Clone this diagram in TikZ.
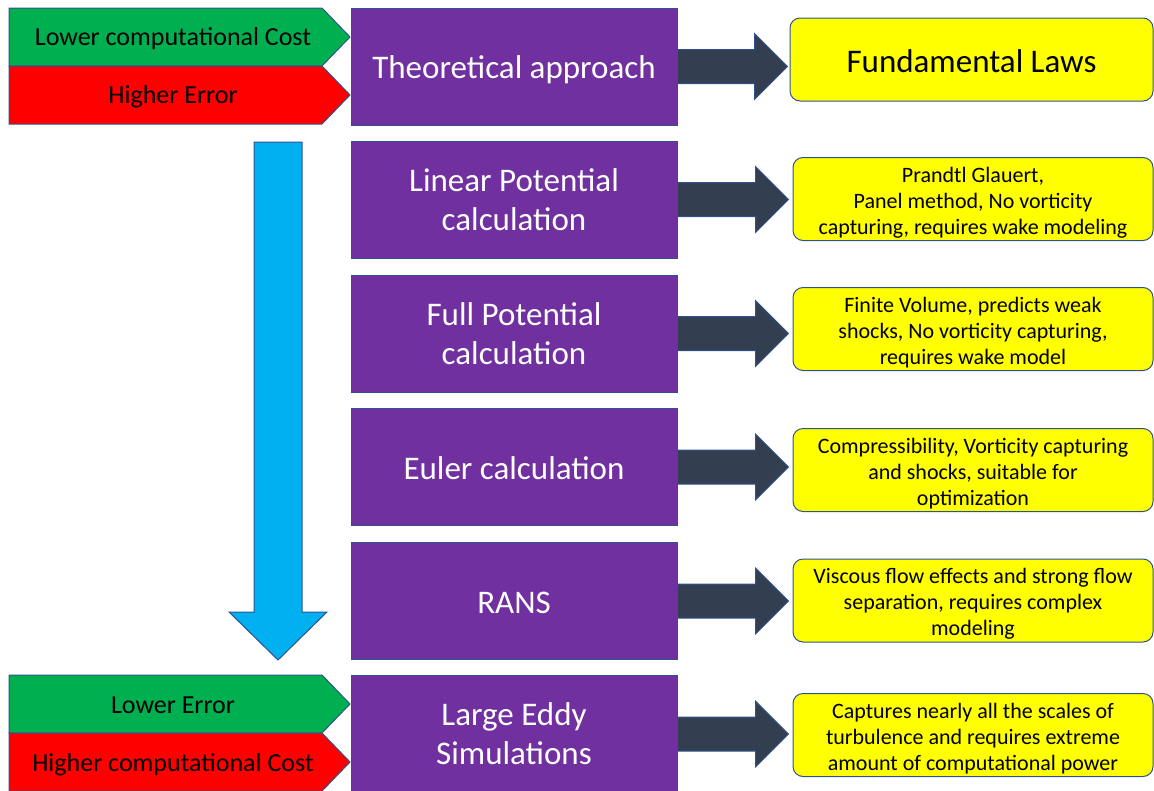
\documentclass[tikz,border=0pt]{standalone}
\usepackage{fontspec}
\setmainfont{Carlito}
\usetikzlibrary{calc}

\definecolor{methodpurple}{RGB}{112,48,160}
\definecolor{remarkyellow}{RGB}{255,255,0}
\definecolor{edgeblue}{RGB}{47,82,143}
\definecolor{arrowdark}{RGB}{51,63,80}
\definecolor{flowblue}{RGB}{0,176,240}
\definecolor{goodgreen}{RGB}{0,176,80}
\definecolor{badred}{RGB}{255,0,0}

% three centred lines, drawn a little lower than TikZ would centre them
\newcommand{\lowlines}[1]{\raisebox{-4pt}[\height][\depth]{\begin{tabular}{@{}c@{}}#1\end{tabular}}}

\tikzset{
  method/.style={draw=edgeblue, line width=1, fill=methodpurple, text=white, minimum width=326, minimum height=117, inner sep=0, align=center, font=\fontsize{33}{39}\selectfont},
  oneline/.style={execute at begin node={\rule{0pt}{30pt}}, execute at end node={\rule[-5pt]{0pt}{5pt}}},
  remark/.style={draw=edgeblue, line width=1, fill=remarkyellow, rounded corners=10, minimum width=360, minimum height=83, inner sep=0, align=center, font=\fontsize{22}{26}\selectfont},
  darkarrow/.style={draw=edgeblue, line width=1, fill=arrowdark},
  tag/.style={inner sep=0, font=\fontsize{26}{31}\selectfont},
}

\begin{document}
\begin{tikzpicture}[x=1pt,y=1pt,yscale=-1,xscale=1]
\useasboundingbox (0,0) rectangle (1154,790); %same size as the screenshot

%Shape: Pentagon (cost / error tags, top)
\draw [draw=edgeblue, line width=1, fill=goodgreen] (9,8) -- (322,8) -- (350,37) -- (322,66) -- (9,66) -- cycle ;
\draw [draw=edgeblue, line width=1, fill=badred] (9,66) -- (322,66) -- (350,95) -- (322,124) -- (9,124) -- cycle ;
%Shape: Pentagon (cost / error tags, bottom)
\draw [draw=edgeblue, line width=1, fill=goodgreen] (9,675) -- (322,675) -- (350,704) -- (322,733) -- (9,733) -- cycle ;
\draw [draw=edgeblue, line width=1, fill=badred] (9,733) -- (322,733) -- (350,762) -- (322,791) -- (9,791) -- cycle ;

% Text Node
\node [tag] (lowcost) at (173,39) {Lower computational Cost};
% Text Node
\node [tag] (higherr) at (173,96.5) {Higher Error};
% Text Node
\node [tag] (lowerr) at (173,705.5) {Lower Error};
% Text Node
\node [tag] (highcost) at (173,764.5) {Higher computational Cost};

%Shape: Down Arrow
\draw [draw=edgeblue, line width=1, fill=flowblue] (254,142) -- (302,142) -- (302,612) -- (327,612) -- (278,660) -- (229,612) -- (254,612) -- cycle ;

%Methods
\node [method, oneline] (theory) at (514,66.5) {Theoretical approach};
\node [method] (linear) at (514,199.5) {Linear Potential\\calculation};
\node [method] (fullpot) at (514,333.5) {Full Potential\\calculation};
\node [method, oneline] (euler) at (514,467) {Euler calculation};
\node [method, oneline] (rans) at (514,601) {RANS};
\node [method] (les) at (514,734) {Large Eddy\\Simulations};

%Remarks
\node [remark, font=\fontsize{33}{40}\selectfont, minimum width=363,
  execute at begin node={\rule{0pt}{31pt}}, execute at end node={\rule[-5pt]{0pt}{5pt}}] (laws) at (971.5,59.5) {Fundamental Laws};
\node [remark] (prandtl) at (973,199) {\lowlines{Prandtl Glauert,\\Panel method, No vorticity\\capturing, requires wake modeling}};
\node [remark] (finitevol) at (973,329) {\lowlines{Finite Volume, predicts weak\\shocks, No vorticity capturing,\\requires wake model}};
\node [remark] (compress) at (973,470) {\lowlines{Compressibility, Vorticity capturing\\and shocks, suitable for\\optimization}};
\node [remark] (viscous) at (973,600.5) {\lowlines{Viscous flow effects and strong flow\\separation, requires complex\\modeling}};
\node [remark] (scales) at (973,735) {\lowlines{Captures nearly all the scales of\\turbulence and requires extreme\\amount of computational power}};

%Shape: Right Arrow
\coordinate (t1) at ($(theory.east -| laws.west)+(-2,0)$);
\draw [darkarrow] ($(theory.east)+(0,-17)$) -- ($(t1)+(-33,-17)$) -- ($(t1)+(-33,-33)$) -- (t1) -- ($(t1)+(-33,33)$) -- ($(t1)+(-33,17)$) -- ($(theory.east)+(0,17)$) -- cycle ;
%Shape: Right Arrow
\coordinate (t2) at ($(linear.east -| prandtl.west)+(-4,0)$);
\draw [darkarrow] ($(linear.east)+(0,-17)$) -- ($(t2)+(-33,-17)$) -- ($(t2)+(-33,-33)$) -- (t2) -- ($(t2)+(-33,33)$) -- ($(t2)+(-33,17)$) -- ($(linear.east)+(0,17)$) -- cycle ;
%Shape: Right Arrow
\coordinate (t3) at ($(fullpot.east -| finitevol.west)+(-4,0)$);
\draw [darkarrow] ($(fullpot.east)+(0,-17)$) -- ($(t3)+(-33,-17)$) -- ($(t3)+(-33,-33)$) -- (t3) -- ($(t3)+(-33,33)$) -- ($(t3)+(-33,17)$) -- ($(fullpot.east)+(0,17)$) -- cycle ;
%Shape: Right Arrow
\coordinate (t4) at ($(euler.east -| compress.west)+(-4,0)$);
\draw [darkarrow] ($(euler.east)+(0,-17)$) -- ($(t4)+(-33,-17)$) -- ($(t4)+(-33,-33)$) -- (t4) -- ($(t4)+(-33,33)$) -- ($(t4)+(-33,17)$) -- ($(euler.east)+(0,17)$) -- cycle ;
%Shape: Right Arrow
\coordinate (t5) at ($(rans.east -| viscous.west)+(-4,0)$);
\draw [darkarrow] ($(rans.east)+(0,-17)$) -- ($(t5)+(-33,-17)$) -- ($(t5)+(-33,-33)$) -- (t5) -- ($(t5)+(-33,33)$) -- ($(t5)+(-33,17)$) -- ($(rans.east)+(0,17)$) -- cycle ;
%Shape: Right Arrow
\coordinate (t6) at ($(les.east -| scales.west)+(-4,0)$);
\draw [darkarrow] ($(les.east)+(0,-17)$) -- ($(t6)+(-33,-17)$) -- ($(t6)+(-33,-33)$) -- (t6) -- ($(t6)+(-33,33)$) -- ($(t6)+(-33,17)$) -- ($(les.east)+(0,17)$) -- cycle ;

\end{tikzpicture}
\end{document}
